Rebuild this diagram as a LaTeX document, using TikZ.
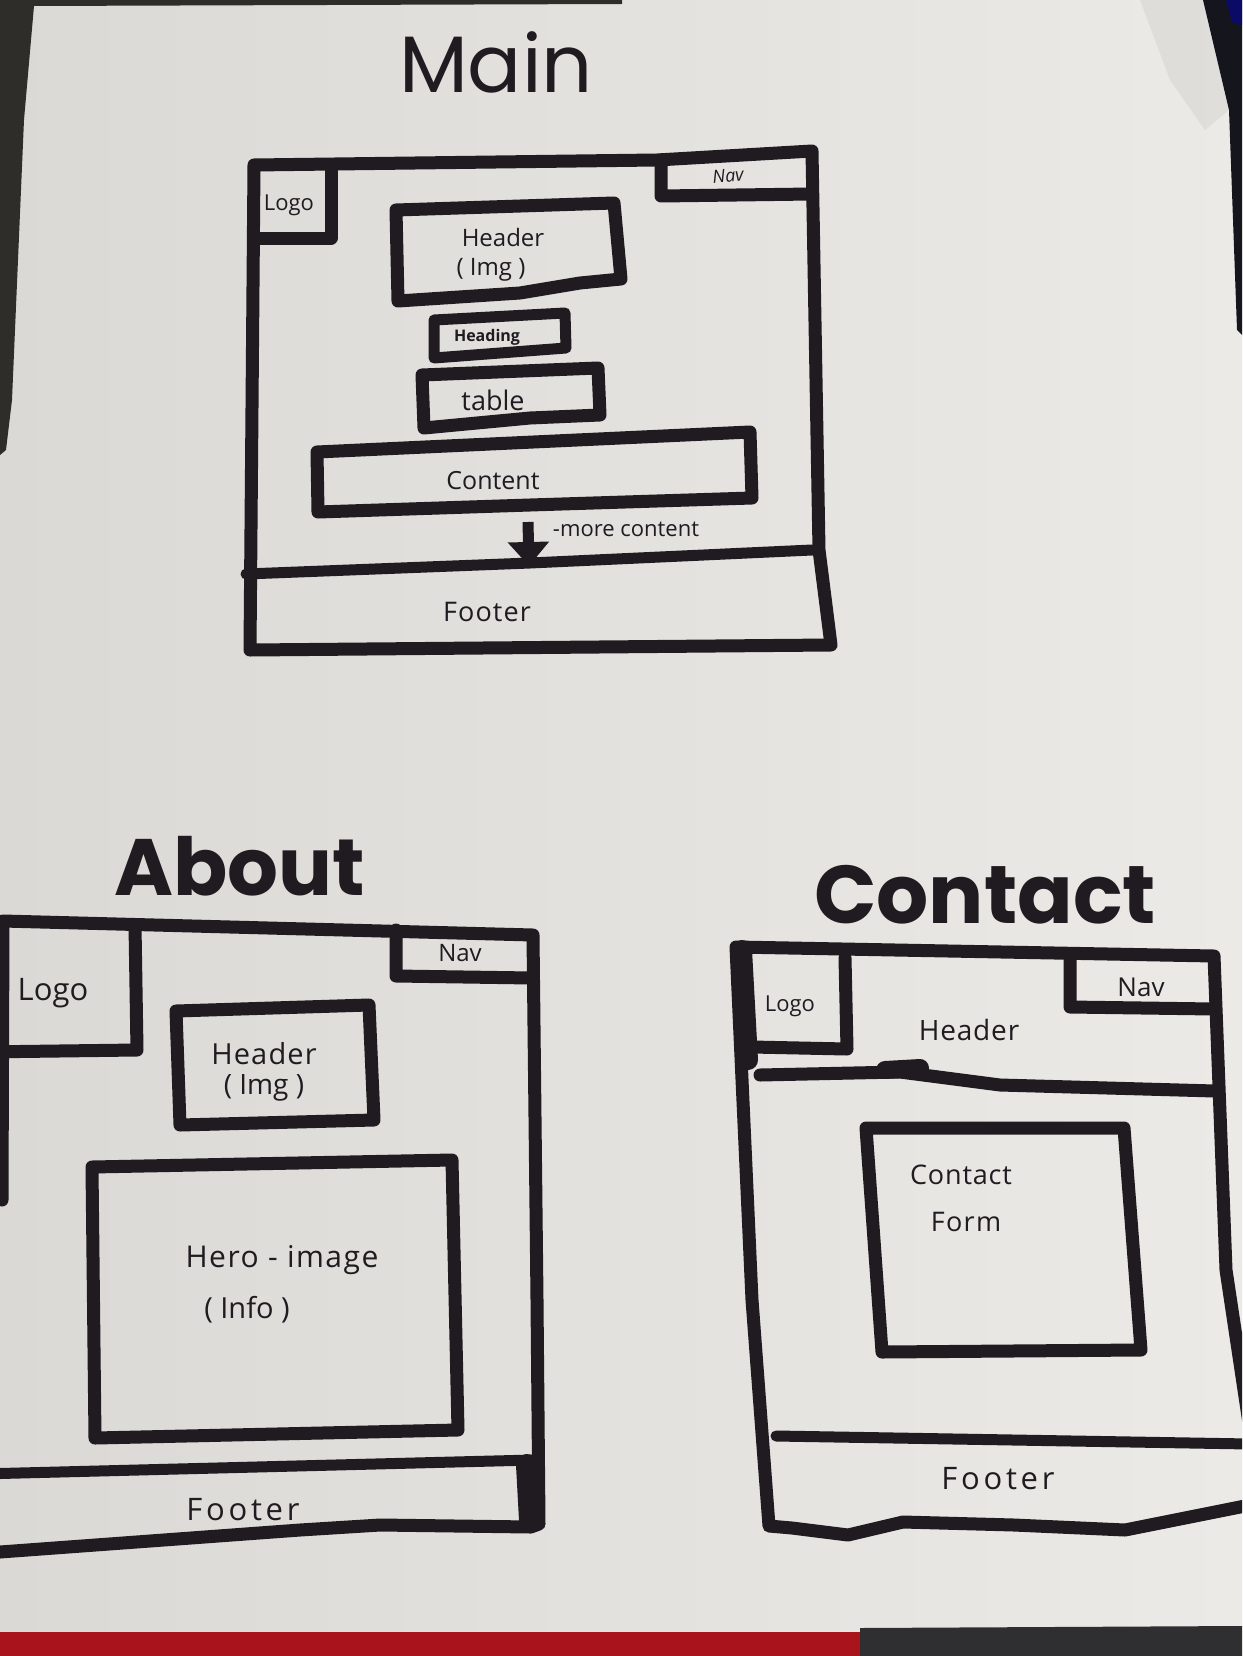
\documentclass[tikz,border=0pt]{standalone}
\usepackage{fontspec}
\setmainfont{Open Sans}
\newfontfamily\titlefont{Poppins}
\usetikzlibrary{arrows.meta}
\definecolor{inkc}{HTML}{1F1B20}
\definecolor{paperL}{HTML}{DAD9D5}
\definecolor{paperR}{HTML}{EBEAE7}
\definecolor{deskc}{HTML}{2E2D2A}
\definecolor{edgec}{HTML}{15161D}
\definecolor{clothred}{HTML}{A9141C}
\definecolor{clothgray}{HTML}{2F2F31}
\newcommand{\wide}[2]{{\addfontfeature{LetterSpace=#1}#2}}
\begin{document}
\begin{tikzpicture}[x=1pt,y=-1pt,
  pen/.style={draw=inkc, line width=#1, line join=round, line cap=round},
  pen/.default=13pt,
  txt/.style={text=inkc, inner sep=0pt, font=\fontsize{#1}{#1}\selectfont},
  txt/.default=24pt,
  ttl/.style={text=inkc, inner sep=0pt, font=\titlefont\fontsize{#1}{#1}\selectfont},
  ttlb/.style={text=inkc, inner sep=0pt, font=\titlefont\bfseries\fontsize{#1}{#1}\selectfont}]
\useasboundingbox (0,0) rectangle (1242,1656);
\clip (0,0) rectangle (1242,1656);

% sheet of paper and what shows around it
\shade[left color=paperL, right color=paperR] (0,0) rectangle (1242,1656);
\fill[deskc] (0,0) -- (622,0) -- (622,4) -- (34,6) -- (24,120) -- (12,400) -- (6,450) -- (0,455) -- cycle;
\fill[edgec] (1203,0) -- (1242,0) -- (1242,335) -- (1237,330) -- (1229,110) -- cycle;
\fill[blue!70!black, opacity=0.5] (1226,0) -- (1242,0) -- (1242,25) -- (1232,22) -- cycle;
\fill[black, opacity=0.05] (1140,0) -- (1203,0) -- (1229,110) -- (1205,130) -- (1170,80) -- cycle;
\fill[clothred] (0,1632) -- (860,1632) -- (860,1656) -- (0,1656) -- cycle;
\fill[clothgray] (860,1628) -- (1242,1626) -- (1242,1656) -- (860,1656) -- cycle;

% ---------------- Main page ----------------
\node[ttl=80pt] (mainT) at (496,62) {Main};
\draw[pen] (254,165) -- (657,160) -- (812,151) -- (819,550) -- (831,645) -- (250,650) -- cycle;
\draw[pen] (254,238) -- (331,238) -- (331,165);
\draw[pen] (661,160) -- (661,196) -- (812,194);
\draw[pen] (396,210) -- (614,203) -- (621,279) -- (580,283) -- (520,293) -- (398,301) -- cycle;
\draw[pen=11pt] (434,320) -- (565,313) -- (566,348) -- (434,358) -- cycle;
\draw[pen] (422,375) -- (598,368) -- (600,415) -- (530,418) -- (424,428) -- cycle;
\draw[pen] (317,452) -- (750,432) -- (752,498) -- (530,505) -- (318,512) -- cycle;
\draw[pen=11pt] (246,574) -- (530,563) -- (812,550);
\coordinate (arrS) at (528,522);
\coordinate (arrE) at (529,566);
\draw[pen=11pt, line cap=butt, -{Triangle[width=40pt,length=24pt]}] (arrS) -- (arrE);

\node[txt=22pt] (mLogo) at (289,205) {Logo};
\node[txt=18pt, rotate=6] (mNav) at (728,176) {\itshape Nav};
\node[txt=24pt] (mHead) at (503,237) {Header};
\node[txt=24pt] (mImg) at (491,270) {( Img )};
\node[txt=16pt] (mHeading) at (487,337) {\bfseries Heading};
\node[txt=27pt] (mTable) at (493,400) {table};
\node[txt=25pt] (mContent) at (493,481) {Content};
\node[txt=22pt] (mMore) at (626,529) {-more content};
\node[txt=27pt] (mFoot) at (487,612) {\wide{4}{Footer}};

% ---------------- About page ----------------
\node[ttlb=80pt] (aboutT) at (240,866) {About};
\draw[pen] (2,1200) -- (3,921) -- (533,935) -- (537,1300) -- (539,1524)
  -- (531,1527) -- (380,1525) -- (300,1530) -- (0,1552) -- (-20,1552);
\draw[pen] (-20,921) -- (3,921);
\draw[pen] (135,925) -- (137,1050) -- (-20,1052);
\draw[pen] (396,930) -- (396,976) -- (532,978);
\draw[pen] (176,1011) -- (369,1005) -- (374,1120) -- (180,1125) -- cycle;
\draw[pen] (92,1167) -- (452,1160) -- (458,1430) -- (95,1438) -- cycle;
\draw[pen=11pt] (-20,1474) -- (533,1460);
\draw[pen=22pt] (527,1465) -- (530,1520);

\node[txt=31pt] (aLogo) at (53,993) {Logo};
\node[txt=24pt] (aNav) at (460,953) {Nav};
\node[txt=29pt] (aHead) at (264,1054) {\wide{4}{Header}};
\node[txt=28pt] (aImg) at (264,1088) {( Img )};
\node[txt=30pt] (aHero) at (282,1260) {\wide{5}{Hero - image}};
\node[txt=29pt] (aInfo) at (247,1310) {( Info )};
\node[txt=31pt] (aFoot) at (243,1510) {\wide{12}{Footer}};

% ---------------- Contact page ----------------
\node[ttlb=82pt] (contactT) at (985,895) {Contact};
\draw[pen] (1250,1430) -- (1226,1270) -- (1214,956) -- (736,947) -- (752,1300) -- (769,1526)
  -- (792,1528) -- (848,1535) -- (903,1522) -- (1014,1525) -- (1125,1530) -- (1250,1505);
\draw[pen=20pt] (742,950) -- (748,1060);
\draw[pen] (845,958) -- (847,1049) -- (752,1047);
\draw[pen] (1070,957) -- (1070,1007) -- (1214,1009);
\draw[pen] (760,1075) -- (900,1072) -- (1000,1085) -- (1215,1091);
\draw[pen=18pt] (885,1070) -- (920,1068);
\draw[pen] (866,1128) -- (1124,1128) -- (1141,1350) -- (882,1352) -- cycle;
\draw[pen=11pt] (776,1436) -- (1250,1444);

\node[txt=22pt] (cLogo) at (790,1006) {Logo};
\node[txt=26pt] (cNav) at (1141,987) {Nav};
\node[txt=28pt] (cHead) at (969,1030) {\wide{3}{Header}};
\node[txt=27pt] (cForm1) at (961,1175) {\wide{3}{Contact}};
\node[txt=27pt] (cForm2) at (966,1222) {\wide{5}{Form}};
\node[txt=31pt] (cFoot) at (998,1479) {\wide{12}{Footer}};
\end{tikzpicture}
\end{document}
